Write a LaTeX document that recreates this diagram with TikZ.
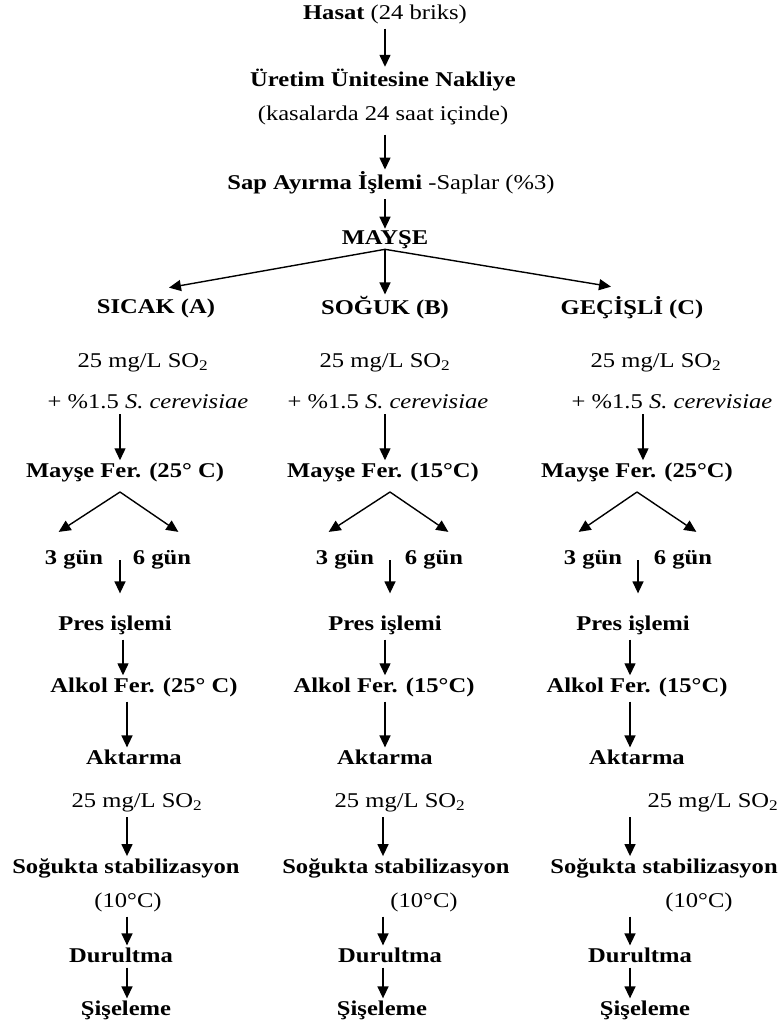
\documentclass[tikz,border=0pt]{standalone}
\usepackage{fontspec}
\setmainfont{Liberation Serif}[FakeStretch=1.17]
\usetikzlibrary{arrows.meta,calc}
\tikzset{
  t/.style={inner sep=0pt, font=\fontsize{21}{25}\selectfont},
  b/.style={inner sep=0pt, font=\fontsize{21}{25}\selectfont\bfseries},
  arr/.style={line width=1.4pt, -{Triangle[length=12pt,width=11pt]}, shorten <=5pt, shorten >=2pt},
}
\begin{document}
\begin{tikzpicture}[x=1pt,y=-1pt]
\useasboundingbox (0,0) rectangle (780,1027);
% top chain
\node[t] (hasat) at (385,14) {\textbf{Hasat} (24 briks)};
\node[b] (uretim) at (383,80) {Üretim Ünitesine Nakliye};
\node[t] (kasa) at (383,115) {(kasalarda 24 saat içinde)};
\node[t] (sap) at (391,183) {\textbf{Sap Ayırma İşlemi} -Saplar (\%3)};
\node[b] (mayse) at (385,240) {MAYŞE};
\node[b] (sicak) at (156,308) {SICAK (A)};
\node[b] (soguk) at (385,308) {SOĞUK (B)};
\node[b] (gecisli) at (632,308) {GEÇİŞLİ (C)};
% SO2 + yeast
\node[t] (soA) at (143,363) {25 mg/L SO\textsubscript{2}};
\node[t] (soB) at (385,363) {25 mg/L SO\textsubscript{2}};
\node[t] (soC) at (656,363) {25 mg/L SO\textsubscript{2}};
\node[t] (ceA) at (148,402) {+ \%1.5 \textit{S. cerevisiae}};
\node[t] (ceB) at (388,402) {+ \%1.5 \textit{S. cerevisiae}};
\node[t] (ceC) at (672,402) {+ \%1.5 \textit{S. cerevisiae}};
% mayse fer
\node[b] (mfA) at (125,472) {Mayşe Fer. (25° C)};
\node[b] (mfB) at (383,472) {Mayşe Fer. (15°C)};
\node[b] (mfC) at (637,472) {Mayşe Fer. (25°C)};
% days
\node[b] (g3A) at (74,560) {3 gün};
\node[b] (g6A) at (162,560) {6 gün};
\node[b] (g3B) at (345,560) {3 gün};
\node[b] (g6B) at (434,560) {6 gün};
\node[b] (g3C) at (593,560) {3 gün};
\node[b] (g6C) at (683,560) {6 gün};
% pres
\node[b] (prA) at (115,625) {Pres işlemi};
\node[b] (prB) at (385,625) {Pres işlemi};
\node[b] (prC) at (633,625) {Pres işlemi};
% alkol
\node[b] (alA) at (144,687) {Alkol Fer. (25° C)};
\node[b] (alB) at (384,687) {Alkol Fer. (15°C)};
\node[b] (alC) at (637,687) {Alkol Fer. (15°C)};
% aktarma
\node[b] (akA) at (134,757) {Aktarma};
\node[b] (akB) at (385,757) {Aktarma};
\node[b] (akC) at (637,757) {Aktarma};
% SO2 2
\node[t] (s2A) at (137,803) {25 mg/L SO\textsubscript{2}};
\node[t] (s2B) at (400,803) {25 mg/L SO\textsubscript{2}};
\node[t] (s2C) at (713,803) {25 mg/L SO\textsubscript{2}};
% stabilizasyon
\node[b] (stA) at (126,868) {Soğukta stabilizasyon};
\node[b] (stB) at (396,868) {Soğukta stabilizasyon};
\node[b] (stC) at (664,868) {Soğukta stabilizasyon};
\node[t] (tA) at (128,902) {(10°C)};
\node[t] (tB) at (424,902) {(10°C)};
\node[t] (tC) at (699,902) {(10°C)};
% durultma
\node[b] (duA) at (121,955) {Durultma};
\node[b] (duB) at (390,955) {Durultma};
\node[b] (duC) at (640,955) {Durultma};
% siseleme
\node[b] (siA) at (126,1010) {Şişeleme};
\node[b] (siB) at (382,1010) {Şişeleme};
\node[b] (siC) at (645,1010) {Şişeleme};

% split points
\coordinate (apA) at (120,492);
\coordinate (apB) at (390,492);
\coordinate (apC) at (637,492);
\coordinate (gA) at (120,560);
\coordinate (gB) at (390,560);
\coordinate (gC) at (638,560);

% connectors
\draw[arr] (hasat.south -| 385,0) -- (uretim.north -| 385,0);
\draw[arr, shorten <=10pt] (kasa.south -| 385,0) -- (sap.north -| 385,0);
\draw[arr] (sap.south -| 385,0) -- (mayse.north -| 385,0);
\draw[arr, shorten <=0pt] (mayse.south) -- (167,288);
\draw[arr, shorten <=0pt] (mayse.south) -- (soguk.north);
\draw[arr, shorten <=0pt] (mayse.south) -- (613,287);

\draw[arr] (ceA.south -| 120,0) -- (mfA.north -| 120,0);
\draw[arr] (ceB.south -| 385,0) -- (mfB.north -| 385,0);
\draw[arr] (ceC.south -| 643,0) -- (mfC.north -| 643,0);

\foreach \c/\l/\r in {A/57/180,B/327/450,C/577/698}{
  \draw[arr, shorten <=0pt] (ap\c) -- (\l,533);
  \draw[arr, shorten <=0pt] (ap\c) -- (\r,533);
}
\draw[arr, shorten <=0pt, shorten >=22pt] (gA) -- (prA.north -| gA);
\draw[arr, shorten <=0pt, shorten >=22pt] (gB) -- (prB.north -| gB);
\draw[arr, shorten <=0pt, shorten >=22pt] (gC) -- (prC.north -| gC);

\draw[arr] (prA.south -| 123,0) -- (alA.north -| 123,0);
\draw[arr] (prB.south -| 385,0) -- (alB.north -| 385,0);
\draw[arr] (prC.south -| 630,0) -- (alC.north -| 630,0);

\draw[arr] (alA.south -| 127,0) -- (akA.north -| 127,0);
\draw[arr] (alB.south -| 385,0) -- (akB.north -| 385,0);
\draw[arr] (alC.south -| 630,0) -- (akC.north -| 630,0);

\draw[arr] (s2A.south -| 127,0) -- (stA.north -| 127,0);
\draw[arr] (s2B.south -| 383,0) -- (stB.north -| 383,0);
\draw[arr] (s2C.south -| 630,0) -- (stC.north -| 630,0);

\draw[arr] (tA.south -| 127,0) -- (duA.north -| 127,0);
\draw[arr] (tB.south -| 383,0) -- (duB.north -| 383,0);
\draw[arr] (tC.south -| 630,0) -- (duC.north -| 630,0);

\draw[arr] (duA.south -| 127,0) -- (siA.north -| 127,0);
\draw[arr] (duB.south -| 383,0) -- (siB.north -| 383,0);
\draw[arr] (duC.south -| 630,0) -- (siC.north -| 630,0);
\end{tikzpicture}
\end{document}
